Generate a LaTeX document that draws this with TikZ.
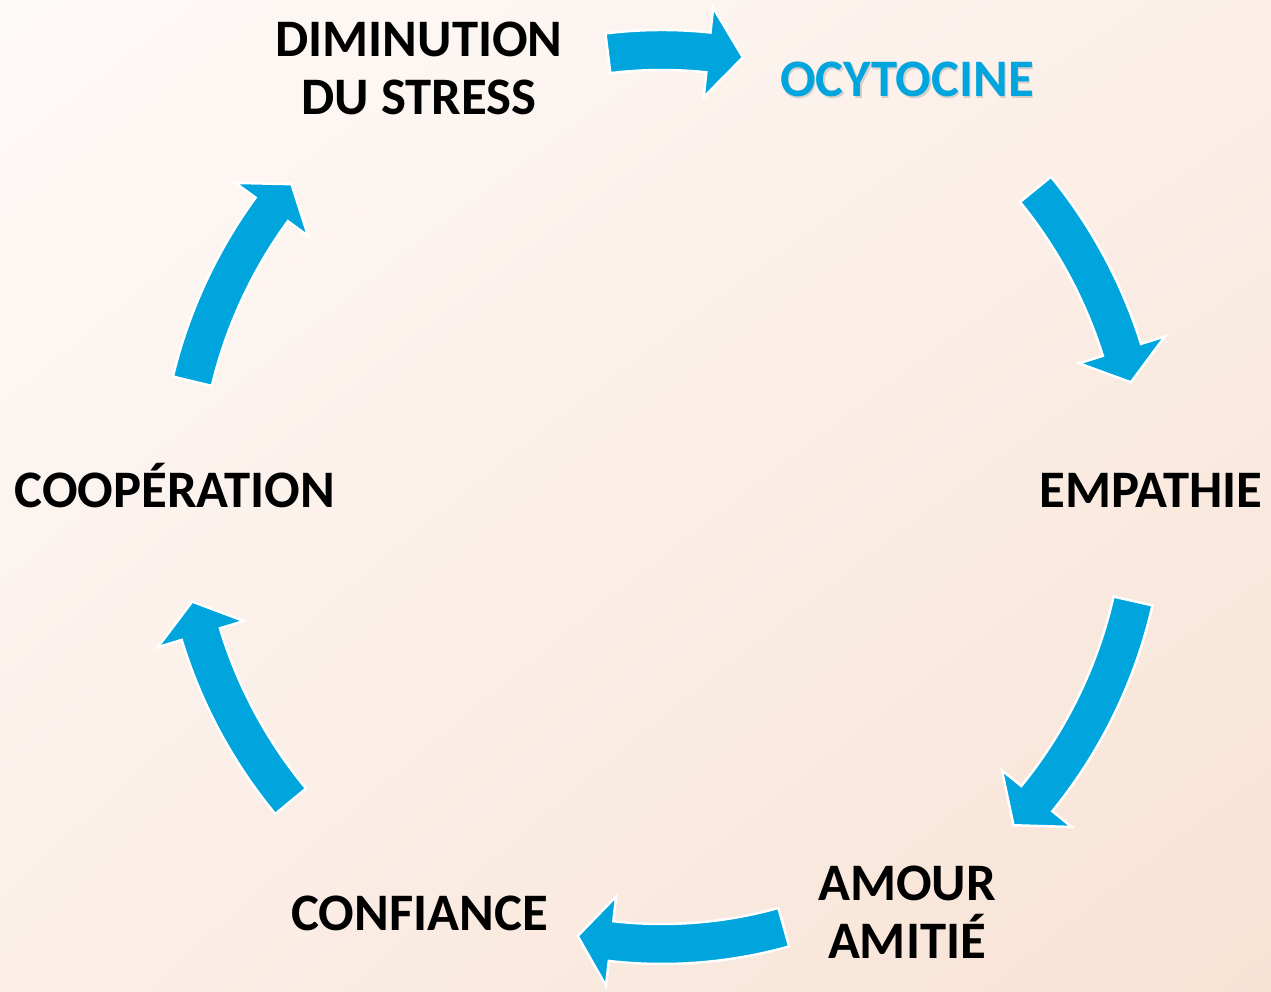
\documentclass[tikz,border=0pt]{standalone}
\usepackage{fontspec}
\setmainfont{Carlito}
\usetikzlibrary{shadings}
\definecolor{cycleblue}{HTML}{00A5DE}
\definecolor{bgA}{HTML}{FEFAF8}
\definecolor{bgB}{HTML}{FBEFE8}
\definecolor{bgC}{HTML}{F8E2D4}
\tikzset{
  steptext/.style={font=\bfseries\fontsize{30}{33}\selectfont, align=center, inner sep=0pt},
  cyclearrow/.style={fill=cycleblue, draw=white, line width=1.4pt, line join=miter}
}
\begin{document}
\begin{tikzpicture}[x=0.02cm, y=0.02cm]
\useasboundingbox (0,0) rectangle (1271,991);
\shade[upper left=bgA, upper right=bgB, lower left=bgB, lower right=bgC] (0,0) rectangle (1271,991);

\coordinate (centre) at (662,497);

%labels
\node[steptext, anchor=center] (stress) at (419,922.5) {DIMINUTION\\DU STRESS};
\node[steptext, anchor=base, text=black!50, opacity=0.3] (ocyshadow) at (908.5,892.5) {OCYTOCINE};
\node[steptext, anchor=base, text=cycleblue] (ocytocine) at (907,894) {OCYTOCINE};
\node[steptext, anchor=base] (empathie) at (1151,483) {EMPATHIE};
\node[steptext, anchor=center] (amour) at (907,79) {AMOUR\\AMITIÉ};
\node[steptext, anchor=base] (confiance) at (419.5,61) {CONFIANCE};
\node[steptext, anchor=base] (cooperation) at (175,483) {COOPÉRATION};

%arrows: start / head base / tip angle, radius
\foreach \s/\b/\t/\r in {97/84/79.5/444, 39.2/17.4/13.4/482, -12.8/-39.1/-43.3/483,
                         -74.3/-96.5/-100.8/450, 219.6/196.9/192.9/482, 166.5/143.9/140.1/483}
  \filldraw[cyclearrow, shift={(centre)}] (\s:{\r+20}) arc[start angle=\s, end angle=\b, radius=\r+20]
    -- (\b:{\r+45}) -- (\t:\r) -- (\b:{\r-45}) -- (\b:{\r-20})
    arc[start angle=\b, end angle=\s, radius=\r-20] -- cycle;

\end{tikzpicture}
\end{document}
